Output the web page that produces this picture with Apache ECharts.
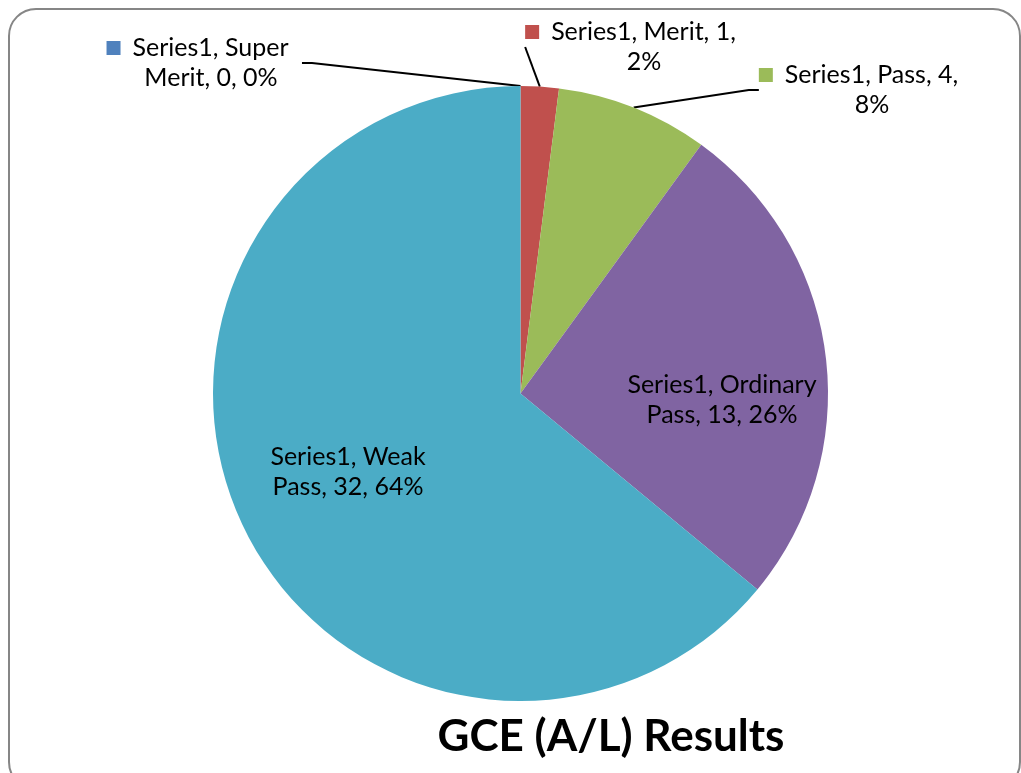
<!DOCTYPE html>
<html>
<head>
<meta charset="utf-8">
<script src="https://cdn.jsdelivr.net/npm/echarts@6/dist/echarts.min.js"></script>
<style>
  html, body { margin: 0; padding: 0; background: #fff; }
  #chart { width: 1021px; height: 773px; }
</style>
</head>
<body>
<div id="chart"></div>
<script>
// data
const seriesName = 'Series1';
const categories = ['Super Merit', 'Merit', 'Pass', 'Ordinary Pass', 'Weak Pass'];
const values = [0, 1, 4, 13, 32];
const colors = ['#4F81BD', '#C0504D', '#9BBB59', '#8064A2', '#4BACC6'];
// how many words go on the first label line
const firstLineWords = [2, 3, 3, 2, 2];

// label placement (layout only)
const outside = [true, true, true, false, false];
const labelPos = [
  [211, 33],
  [644, 17],
  [872, 60],
  [722, 370],
  [348, 442],
];

const FONT = 'Lato, Carlito, Calibri, sans-serif';
const chart = echarts.init(document.getElementById('chart'));

function labelText(params) {
  const words = `${seriesName}, ${params.name}, ${params.value}, ${params.percent}%`.split(' ');
  const n = firstLineWords[params.dataIndex];
  const l1 = words.slice(0, n).join(' ');
  const l2 = words.slice(n).join(' ');
  if (outside[params.dataIndex]) {
    return `{key${params.dataIndex}|}{gap|}{t|${l1}}{pad|}\n{t|${l2}}`;
  }
  return `{t|${l1}}\n{t|${l2}}`;
}

const rich = {
  t: { fontFamily: FONT, fontSize: 25, lineHeight: 30, color: '#000' },
  gap: { width: 12 },
  pad: { width: 27 },
};
colors.forEach((c, i) => {
  rich['key' + i] = { width: 14, height: 14, backgroundColor: c };
});

chart.setOption({
  animation: false,
  backgroundColor: '#fff',
  title: {
    text: 'GCE (A/L) Results',
    left: 606,
    top: 710,
    textAlign: 'center',
    textStyle: { fontFamily: FONT, fontSize: 44, fontWeight: 'bold', color: '#000' },
  },
  graphic: [{
    type: 'rect',
    shape: { x: 9, y: 9, width: 1011, height: 780, r: 27 },
    style: { fill: 'none', stroke: '#868686', lineWidth: 2 },
    silent: true,
  }],
  series: [{
    type: 'pie',
    name: seriesName,
    center: [520.5, 393.5],
    radius: [0, 307.5],
    startAngle: 90,
    clockwise: true,
    percentPrecision: 0,
    avoidLabelOverlap: false,
    itemStyle: { borderWidth: 0 },
    label: {
      show: true,
      position: 'outside',
      formatter: labelText,
      rich: rich,
      align: 'center',
    },
    labelLine: {
      show: true,
      length: 20,
      length2: 10,
      lineStyle: { color: '#000', width: 2 },
    },
    labelLayout: (params) => {
      const p = labelPos[params.dataIndex];
      return { x: p[0], y: p[1], align: 'center', verticalAlign: 'top' };
    },
    emphasis: { disabled: true },
    data: categories.map((name, i) => ({
      name: name,
      value: values[i],
      itemStyle: { color: colors[i] },
      labelLine: { show: outside[i] },
    })),
  }],
});
</script>
</body>
</html>
